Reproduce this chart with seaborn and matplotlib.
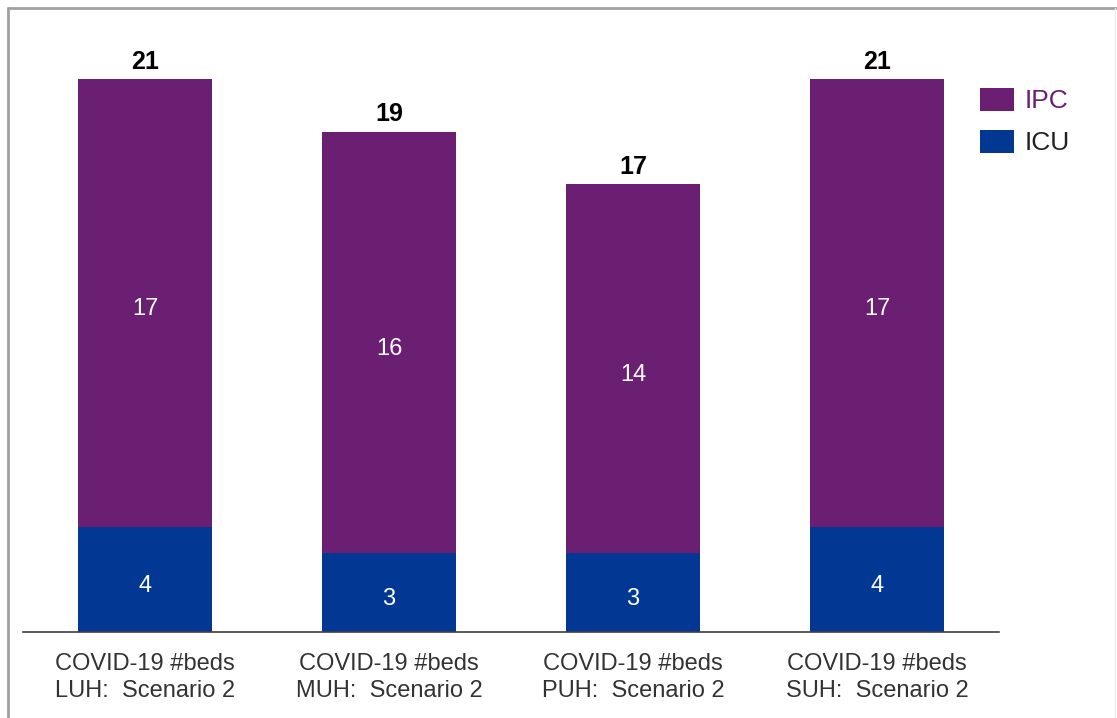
import matplotlib
matplotlib.use("Agg")
import matplotlib.pyplot as plt
from matplotlib.patches import Patch
from matplotlib.lines import Line2D
from matplotlib.transforms import offset_copy
import pandas as pd
import seaborn as sns

# Bed counts per hospital, scenario 2
hospitals = ["LUH", "MUH", "PUH", "SUH"]
icu_beds = [4, 3, 3, 4]
ipc_beds = [17, 16, 14, 17]
category_labels = [f"COVID-19 #beds\n{h}:  Scenario 2" for h in hospitals]

IPC_COLOR = "#6B1F73"
ICU_COLOR = "#023893"

sns.set_theme(style="white")
plt.rcParams["font.family"] = ["Liberation Sans", "DejaVu Sans"]

totals = [i + p for i, p in zip(icu_beds, ipc_beds)]
df = pd.DataFrame({"label": category_labels, "ICU": icu_beds,
                   "IPC": ipc_beds, "total": totals})

fig = plt.figure(figsize=(11.17, 7.18), dpi=100)
ax = fig.add_axes([23 / 1117, 86 / 718, 976 / 1117, 605.6 / 718])

# Stacked bars: full height in IPC colour, ICU segment drawn over the base
sns.barplot(data=df, x="label", y="total", color=IPC_COLOR, width=0.55,
            saturation=1, linewidth=0, ax=ax)
sns.barplot(data=df, x="label", y="ICU", color=ICU_COLOR, width=0.55,
            saturation=1, linewidth=0, ax=ax)

# Segment labels sit slightly below the segment centre
seg_trans = offset_copy(ax.transData, fig=fig, y=-4, units="dots")
for i, (icu, ipc, tot) in enumerate(zip(icu_beds, ipc_beds, totals)):
    ax.text(i, icu / 2, str(icu), ha="center", va="center_baseline",
            color="white", fontsize=17, transform=seg_trans)
    ax.text(i, icu + ipc / 2, str(ipc), ha="center", va="center_baseline",
            color="white", fontsize=17, transform=seg_trans)
    ax.text(i, tot + 0.2, str(tot), ha="center", va="bottom",
            color="black", fontsize=18, fontweight="bold")

ax.set_xlim(-0.5, 3.5)
ax.set_ylim(0, 23)
ax.set_xlabel("")
ax.set_ylabel("")
ax.set_yticks([])
ax.tick_params(axis="x", length=0, pad=15, labelsize=17, labelcolor="#333333")
for lbl in ax.get_xticklabels():
    lbl.set_linespacing(1.3)
for side in ["top", "right", "left"]:
    ax.spines[side].set_visible(False)
ax.spines["bottom"].set_color("#404040")
ax.spines["bottom"].set_linewidth(1.2)

handles = [Patch(facecolor=IPC_COLOR, edgecolor="none"),
           Patch(facecolor=ICU_COLOR, edgecolor="none")]
leg = fig.legend(handles, ["IPC", "ICU"], loc="upper left",
                 bbox_to_anchor=(980 / 1117, 1 - 88 / 718), frameon=False,
                 fontsize=19, handlelength=1.29, handleheight=0.95,
                 handletextpad=0.4, labelspacing=0.62, borderaxespad=0,
                 borderpad=0)
leg.get_texts()[0].set_color(IPC_COLOR)
leg.get_texts()[1].set_color("#222222")

# Frame around the figure (top and left edges)
fig.add_artist(Line2D([8 / 1117, 1], [1 - 8 / 718, 1 - 8 / 718],
                      transform=fig.transFigure, color="#A0A0A0", lw=2))
fig.add_artist(Line2D([8 / 1117, 8 / 1117], [0, 1 - 8 / 718],
                      transform=fig.transFigure, color="#A0A0A0", lw=2))
fig.add_artist(Line2D([1115 / 1117, 1115 / 1117], [0, 1 - 8 / 718],
                      transform=fig.transFigure, color="#EEEEEE", lw=1))

fig.savefig("out.png", dpi=100)
